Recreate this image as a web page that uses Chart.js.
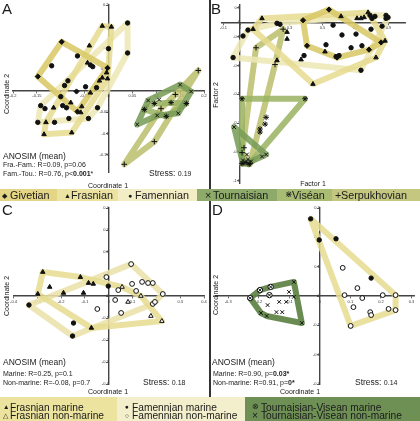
<!DOCTYPE html>
<html>
<head>
<meta charset="utf-8">
<title>NMDS panels</title>
<script src="https://cdn.jsdelivr.net/npm/chart.js@4.4.1/dist/chart.umd.min.js"></script>
<style>
  body { margin:0; background:#fff; font-family:"Liberation Sans", Arial, sans-serif; color:#1a1a1a; }
  #wrap { position:relative; width:420px; height:421px; overflow:hidden; }
  canvas { position:absolute; }
  .txt { position:absolute; white-space:nowrap; line-height:1; }
  .vert { position:absolute; white-space:nowrap; line-height:1; font-size:7px; transform:translate(-50%,-50%) rotate(-90deg); }
  .axt { position:absolute; white-space:nowrap; line-height:1; font-size:7px; transform:translateX(-50%); }
  .seg { position:absolute; font-size:10.8px; line-height:1; white-space:nowrap; }
  .seg span { position:absolute; }
  .low { font-size:10.2px; }
  .divider { position:absolute; left:209px; width:2px; background:#333; }
  .panel { position:absolute; font-size:15px; line-height:1; }
</style>
</head>
<body>
<div id="wrap">
  <canvas id="chartA" width="209" height="189" style="left:0;top:0"></canvas>
  <canvas id="chartB" width="209" height="189" style="left:211px;top:0"></canvas>
  <canvas id="chartC" width="209" height="196" style="left:0;top:201px"></canvas>
  <canvas id="chartD" width="209" height="196" style="left:211px;top:201px"></canvas>

  <div class="divider" style="top:0;height:189px"></div>
  <div class="divider" style="top:201px;height:196px"></div>

  <!-- panel letters -->
  <div class="panel" style="left:2px;top:1px">A</div>
  <div class="panel" style="left:211px;top:1px">B</div>
  <div class="panel" style="left:2px;top:202px">C</div>
  <div class="panel" style="left:212px;top:202px">D</div>

  <!-- axis titles -->
  <div class="vert" style="left:6px;top:94px">Coordinate 2</div>
  <div class="axt" style="left:108px;top:181.5px">Coordinate 1</div>
  <div class="vert" style="left:215px;top:95px">Factor 2</div>
  <div class="axt" style="left:313px;top:180px">Factor 1</div>
  <div class="vert" style="left:6px;top:296px">Coordinate 2</div>
  <div class="axt" style="left:108px;top:387.5px">Coordinate 1</div>
  <div class="vert" style="left:215px;top:295px">Coordinate 2</div>
  <div class="axt" style="left:300px;top:387.5px">Coordinate 1</div>

  <!-- anosim text A -->
  <div class="txt" style="left:3px;top:151.5px;font-size:8.5px">ANOSIM (mean)</div>
  <div class="txt" style="left:3px;top:160.7px;font-size:7px">Fra.-Fam.: R=0.09, p=0.06</div>
  <div class="txt" style="left:3px;top:169.7px;font-size:7px">Fam.-Tou.: R=0.76, p&lt;<b>0.001</b>*</div>
  <div class="txt" style="left:149px;top:169px;font-size:8.5px">Stress: <span style="font-size:7px">0.19</span></div>

  <!-- anosim text C -->
  <div class="txt" style="left:3px;top:358px;font-size:8.5px">ANOSIM (mean)</div>
  <div class="txt" style="left:3px;top:369.7px;font-size:7px">Marine: R=0.25, p=0.1</div>
  <div class="txt" style="left:3px;top:378.7px;font-size:7px">Non-marine: R=-0.08, p=0.7</div>
  <div class="txt" style="left:143px;top:378px;font-size:8.5px">Stress: <span style="font-size:7px">0.18</span></div>

  <!-- anosim text D -->
  <div class="txt" style="left:212px;top:358px;font-size:8.5px">ANOSIM (mean)</div>
  <div class="txt" style="left:213px;top:369.7px;font-size:7px">Marine: R=0.90, p=<b>0.03*</b></div>
  <div class="txt" style="left:213px;top:378.7px;font-size:7px">Non-marine: R=0.91, p=<b>0*</b></div>
  <div class="txt" style="left:355px;top:378px;font-size:8.5px">Stress: <span style="font-size:7px">0.14</span></div>

  <!-- top legend -->
  <div class="seg" style="left:0;top:189px;width:57px;height:12px;background:#e3d486"><span style="left:2px;top:2.5px;font-size:7px">&#9670;</span><span style="left:10px;top:1px">Givetian</span></div>
  <div class="seg" style="left:57px;top:189px;width:61px;height:12px;background:#ece3a2"><span style="left:7px;top:2.5px;font-size:7px">&#9650;</span><span style="left:14px;top:1px">Frasnian</span></div>
  <div class="seg" style="left:118px;top:189px;width:79px;height:12px;background:#f3edc6"><span style="left:10px;top:2.5px;font-size:7px">&#9679;</span><span style="left:17px;top:1px">Famennian</span></div>
  <div class="seg" style="left:197px;top:189px;width:80px;height:12px;background:#8daa6b"><span style="left:8px;top:1px">&#215;</span><span style="left:16px;top:1px">Tournaisian</span></div>
  <div class="seg" style="left:277px;top:189px;width:55px;height:12px;background:#a8bc74"><span style="left:8px;top:1px;font-size:9px">&#8903;</span><span style="left:15px;top:1px">Vis&eacute;an</span></div>
  <div class="seg" style="left:332px;top:189px;width:88px;height:12px;background:#c4c77f"><span style="left:3px;top:1px">+</span><span style="left:9px;top:1px">Serpukhovian</span></div>

  <!-- bottom legend -->
  <div class="seg low" style="left:0;top:397px;width:117px;height:24px;background:#ece39f">
    <span style="left:3px;top:7px;font-size:6.5px">&#9650;</span><span style="left:10px;top:5.5px">Frasnian marine</span>
    <span style="left:3px;top:15.5px;font-size:6.5px">&#9651;</span><span style="left:10px;top:14px">Frasnian non-marine</span>
  </div>
  <div class="seg low" style="left:117px;top:397px;width:128px;height:24px;background:#f3eecb">
    <span style="left:8px;top:7px;font-size:6.5px">&#9679;</span><span style="left:15px;top:5.5px">Famennian marine</span>
    <span style="left:8px;top:15.5px;font-size:6.5px">&#9675;</span><span style="left:15px;top:14px">Famennian non-marine</span>
  </div>
  <div class="seg low" style="left:245px;top:397px;width:175px;height:24px;background:#6e9055">
    <span style="left:7px;top:6px;font-size:8px">&#8855;</span><span style="left:16px;top:5.5px">Tournaisian-Visean marine</span>
    <span style="left:7px;top:14px">&#215;</span><span style="left:16px;top:14px">Tournaisian-Visean non-marine</span>
  </div>
</div>

<script>
// tick values
const a_x_ticks = [-0.2, -0.15, -0.1, -0.05, 0, 0.05, 0.1, 0.15, 0.2];
const a_y_ticks = [0.2, 0.15, 0.1, 0.05, 0, -0.05, -0.1, -0.15];
const b_x_ticks = [-0.1, 0, 0.1, 0.3, 0.5, 0.7, 0.9];
const b_y_ticks = [0.1, 0, -0.1, -0.3, -0.5, -0.7, -0.9, -1.1];
const c_x_ticks = [-0.4, -0.3, -0.2, -0.1, 0, 0.1, 0.2, 0.3, 0.4];
const c_y_ticks = [0.4, 0.3, 0.2, 0.1, 0, -0.1, -0.2, -0.3, -0.4];
const d_x_ticks = [-0.3, -0.2, -0.1, 0, 0.1, 0.2, 0.3];
const d_y_ticks = [0.3, 0.2, 0.1, 0, -0.1, -0.2, -0.3];

// panel A points
const a_givetian = [[-0.148,0.033],[-0.098,0.114],[-0.002,0.053],[-0.065,-0.049],[-0.067,-0.002]];
const a_frasnian = [[-0.013,0.151],[0.006,0.149],[-0.040,0.105],[-0.044,0.065],[-0.019,0.023],[-0.013,0.030],[-0.004,0.042],
    [-0.002,0.028],[-0.038,-0.005],[-0.079,-0.028],[-0.056,-0.037],[-0.115,-0.040],[-0.131,-0.074],[-0.135,-0.102],[-0.077,-0.098],[-0.058,-0.051]];
const a_famennian = [[-0.119,0.058],[-0.065,0.081],[-0.038,0.060],[-0.033,0.056],[-0.085,0.023],[-0.092,0.012],[-0.048,0.009],
    [-0.025,0.007],[-0.100,-0.014],[-0.023,-0.040],[-0.142,-0.035],[-0.133,-0.042],[-0.096,-0.035],[-0.088,-0.040],[-0.148,-0.074],
    [-0.113,-0.074],[-0.083,-0.065],[-0.042,-0.065],[0.040,0.158],[0.040,0.088],[0.000,0.098]];
const a_tournaisian = [[0.060,-0.079],[0.083,-0.023],[0.150,0.014],[0.173,-0.002],[0.146,-0.053],[0.102,-0.058],[0.106,-0.021]];
const a_visean = [[0.075,-0.044],[0.096,-0.030],[0.131,-0.028],[0.163,-0.030],[0.121,-0.060]];
const a_serpukhovian = [[0.188,0.047],[0.140,-0.009],[0.110,-0.042],[0.096,-0.119],[0.033,-0.172]];

// panel A hulls
const a_givetian_hull = [[-0.148,0.033],[-0.098,0.114],[-0.002,0.053],[-0.065,-0.049]];
const a_frasnian_hull = [[-0.013,0.151],[0.006,0.149],[-0.002,0.028],[-0.077,-0.098],[-0.135,-0.102],[-0.131,-0.074]];
const a_famennian_hull = [[0.040,0.158],[0.040,0.088],[-0.023,-0.040],[-0.042,-0.065],[-0.148,-0.074],[-0.142,-0.035]];
const a_tournaisian_hull = [[0.060,-0.079],[0.083,-0.023],[0.150,0.014],[0.173,-0.002],[0.146,-0.053],[0.102,-0.058]];
const a_visean_hull = [[0.075,-0.044],[0.096,-0.030],[0.131,-0.028],[0.163,-0.030],[0.121,-0.060]];
const a_serpukhovian_hull = [[0.188,0.047],[0.096,-0.119],[0.033,-0.172],[0.110,-0.042],[0.140,-0.009]];

// panel B points
const b_givetian = [[0.539,0.088],[0.855,-0.140],[0.782,-0.190],[0.588,-0.245],[0.406,-0.163],[0.382,0.014]];
const b_frasnian = [[0.079,-0.048],[0.133,0.027],[0.285,-0.068],[0.285,-0.116],[0.224,-0.265],[0.370,-0.259],[0.442,-0.429],
    [0.515,-0.204],[0.612,0.041],[0.709,0.027],[0.733,0.027],[0.752,0.034],[0.776,0.068],[0.824,-0.245],[0.879,-0.129]];
const b_famennian = [[-0.042,-0.245],[0.048,-0.054],[0.018,-0.095],[0.224,-0.007],[0.242,-0.014],[0.388,-0.231],[0.521,-0.156],
    [0.564,-0.020],[0.582,-0.238],[0.600,-0.231],[0.618,-0.088],[0.673,-0.177],[0.703,-0.082],[0.739,-0.163],[0.733,-0.333],
    [0.788,0.048],[0.800,0.027],[0.818,0.041],[0.794,-0.048],[0.885,0.048],[0.885,0.027],[0.897,0.034],[0.861,-0.027]];
const b_tournaisian = [[-0.036,-0.728],[0.042,-0.918],[0.018,-0.959],[0.018,-0.980],[0.048,-0.952],[0.067,-0.966],[0.133,-0.932],[0.158,-0.918]];
const b_visean = [[0.012,-0.531],[0.394,-0.531],[0.158,-0.660],[0.152,-0.707],[0.121,-0.741],[0.121,-0.762],[0.055,-0.986],[0.036,-0.973],[0.012,-0.980]];
const b_serpukhovian = [[0.261,-0.048],[0.097,-0.177],[0.024,-0.871],[0.012,-0.905],[0.061,-0.980],[0.212,-0.293]];

// panel B hulls
const b_givetian_hull = [[0.539,0.088],[0.855,-0.140],[0.782,-0.190],[0.588,-0.245],[0.406,-0.163],[0.382,0.014]];
const b_frasnian_hull = [[0.133,0.027],[0.776,0.068],[0.879,-0.129],[0.824,-0.245],[0.442,-0.429],[0.079,-0.048]];
const b_famennian_hull = [[-0.042,-0.245],[0.048,-0.054],[0.224,-0.007],[0.788,0.048],[0.885,0.048],[0.897,0.034],[0.733,-0.333]];
const b_tournaisian_hull = [[-0.036,-0.728],[0.158,-0.918],[0.067,-0.966],[0.018,-0.980]];
const b_visean_hull = [[0.012,-0.531],[0.394,-0.531],[0.055,-0.986],[0.012,-0.980]];
const b_serpukhovian_hull = [[0.261,-0.048],[0.212,-0.293],[0.061,-0.980],[0.012,-0.905],[0.097,-0.177]];

// panel C points
const c_fra_marine = [[-0.277,0.109],[-0.248,0.041],[-0.298,0.009],[-0.190,0.014],[-0.119,0.086],[-0.106,0.014],[-0.085,0.059],[-0.065,0.055],[-0.073,-0.145]];
const c_fra_nonmarine = [[0.056,0.041],[0.135,0.000],[0.081,-0.027],[0.177,-0.091],[0.223,-0.114]];
const c_fam_marine = [[-0.335,-0.041],[-0.002,0.045],[-0.148,-0.123],[-0.152,-0.182]];
const c_fam_nonmarine = [[0.094,0.145],[-0.010,0.086],[0.040,0.027],[0.098,0.055],[0.115,0.023],[0.140,0.064],[0.165,0.059],
    [0.185,0.059],[0.227,0.009],[0.027,-0.018],[-0.048,-0.059],[0.052,-0.077],[0.185,-0.036],[0.194,-0.027]];
const c_fra_hull = [[-0.277,0.109],[-0.119,0.086],[0.056,0.041],[0.135,0.000],[0.223,-0.114],[-0.073,-0.145],[-0.298,0.009]];
const c_fam_hull = [[-0.335,-0.041],[0.094,0.145],[0.227,0.009],[0.185,-0.036],[-0.152,-0.182]];

// panel D points
const d_fam_marine = [[-0.030,0.263],[-0.002,0.191],[0.053,0.195],[0.168,0.061]];
const d_fam_nonmarine = [[0.075,0.096],[0.081,0.003],[0.123,0.027],[0.110,-0.038],[0.139,-0.007],[0.206,0.003],[0.248,0.003],
    [0.225,-0.044],[0.248,-0.048],[0.165,-0.055],[0.168,-0.065],[0.101,-0.102]];
const d_tv_marine = [[-0.228,-0.007],[-0.196,0.020],[-0.161,0.031],[-0.165,0.003]];
const d_tv_nonmarine = [[-0.085,0.048],[-0.101,0.014],[-0.085,-0.003],[-0.171,-0.031],[-0.133,-0.020],[-0.110,-0.020],
    [-0.142,-0.055],[-0.123,-0.055],[-0.193,-0.058],[-0.174,-0.068],[-0.059,-0.092]];
const d_fam_hull = [[-0.030,0.263],[0.248,0.003],[0.248,-0.048],[0.101,-0.102]];
const d_tv_hull = [[-0.228,-0.007],[-0.196,0.020],[-0.161,0.031],[-0.085,0.048],[-0.059,-0.092],[-0.174,-0.068],[-0.193,-0.058]];

// band colours
const col_givetian = 'rgba(218,201,105,0.88)';
const col_frasnian = 'rgba(230,220,145,0.85)';
const col_famennian = 'rgba(238,231,182,0.88)';
const col_tournaisian = 'rgba(122,157,88,0.88)';
const col_visean = 'rgba(156,180,100,0.88)';
const col_serpukhovian = 'rgba(188,192,110,0.88)';
const col_tv = 'rgba(98,134,74,0.95)';

function toPoints(arr){
    return arr.map((p)=>({x: p[0], y: p[1]}));
};

// closed polygon drawn as a thick line
function hull(arr, color){
    return {
        data: toPoints(arr.concat([arr[0]])),
        showLine: true,
        borderColor: color,
        borderWidth: 6,
        borderJoinStyle: 'round',
        borderCapStyle: 'round',
        pointRadius: 0,
        fill: false,
        order: 2,
        clip: false
    };
};

function marks(arr, style, radius, fill){
    return {
        data: toPoints(arr),
        showLine: false,
        pointStyle: style,
        pointRadius: radius,
        pointBackgroundColor: fill,
        pointBorderColor: '#111',
        pointBorderWidth: 1,
        order: 1,
        clip: false
    };
};

function tickLabel(value){
    return value === 0 ? '0' : String(value);
};

function axis(range, ticks, pos){
    return {
        type: 'linear',
        min: range[0],
        max: range[1],
        position: pos,
        afterBuildTicks: function(scale){
            scale.ticks = ticks.map((v)=>({value: v}));
        },
        ticks: {
            font: {size: 4, family: 'Liberation Sans'},
            color: '#333',
            padding: 1,
            autoSkip: false,
            maxRotation: 0,
            callback: tickLabel
        },
        grid: {drawOnChartArea: false, tickLength: 2, color: '#444', lineWidth: 0.8},
        border: {color: '#444', width: 1.4}
    };
};

function makeChart(id, datasets, x_range, y_range, x_ticks, y_ticks, padding){
    return new Chart(document.getElementById(id), {
        type: 'scatter',
        data: {datasets: datasets},
        options: {
            responsive: false,
            animation: false,
            events: [],
            layout: {padding: padding},
            plugins: {legend: {display: false}, tooltip: {enabled: false}},
            scales: {
                x: axis(x_range, x_ticks, {y: 0}),
                y: axis(y_range, y_ticks, {x: 0})
            }
        }
    });
};

makeChart('chartA', [
    marks(a_givetian, 'rectRot', 2.6, '#111'),
    marks(a_frasnian, 'triangle', 2.6, '#111'),
    marks(a_famennian, 'circle', 2.2, '#111'),
    marks(a_tournaisian, 'crossRot', 2.6, '#111'),
    marks(a_visean, 'star', 2.8, '#111'),
    marks(a_serpukhovian, 'cross', 2.8, '#111'),
    hull(a_givetian_hull, col_givetian),
    hull(a_frasnian_hull, col_frasnian),
    hull(a_famennian_hull, col_famennian),
    hull(a_tournaisian_hull, col_tournaisian),
    hull(a_visean_hull, col_visean),
    hull(a_serpukhovian_hull, col_serpukhovian)
], [-0.2, 0.2], [-0.19, 0.2], a_x_ticks, a_y_ticks, {left: 13, right: 4, top: 4, bottom: 17});

makeChart('chartB', [
    marks(b_givetian, 'rectRot', 2.6, '#111'),
    marks(b_frasnian, 'triangle', 2.6, '#111'),
    marks(b_famennian, 'circle', 2.2, '#111'),
    marks(b_tournaisian, 'crossRot', 2.6, '#111'),
    marks(b_visean, 'star', 2.8, '#111'),
    marks(b_serpukhovian, 'cross', 2.8, '#111'),
    hull(b_givetian_hull, col_givetian),
    hull(b_frasnian_hull, col_frasnian),
    hull(b_famennian_hull, col_famennian),
    hull(b_tournaisian_hull, col_tournaisian),
    hull(b_visean_hull, col_visean),
    hull(b_serpukhovian_hull, col_serpukhovian)
], [-0.11, 1.0], [-1.12, 0.12], b_x_ticks, b_y_ticks, {left: 10.9, right: 15, top: 1.4, bottom: 5.4});

makeChart('chartC', [
    marks(c_fra_marine, 'triangle', 2.6, '#111'),
    marks(c_fra_nonmarine, 'triangle', 2.6, '#fff'),
    marks(c_fam_marine, 'circle', 2.2, '#111'),
    marks(c_fam_nonmarine, 'circle', 2.4, '#fff'),
    hull(c_fra_hull, col_frasnian),
    hull(c_fam_hull, 'rgba(234,227,170,0.88)')
], [-0.4, 0.4], [-0.4, 0.4], c_x_ticks, c_y_ticks, {left: 13.5, right: 3.5, top: 7, bottom: 13});

makeChart('chartD', [
    marks(d_fam_marine, 'circle', 2.2, '#111'),
    marks(d_fam_nonmarine, 'circle', 2.4, '#fff'),
    marks(d_tv_marine, 'crossRot', 2.4, '#111'),
    marks(d_tv_marine, 'circle', 2.7, '#fff'),
    marks(d_tv_nonmarine, 'crossRot', 2.6, '#111'),
    hull(d_fam_hull, col_frasnian),
    hull(d_tv_hull, col_tv)
], [-0.34, 0.31], [-0.3, 0.3], d_x_ticks, d_y_ticks, {left: 0.1, right: 5.5, top: 7, bottom: 13});
</script>
</body>
</html>
